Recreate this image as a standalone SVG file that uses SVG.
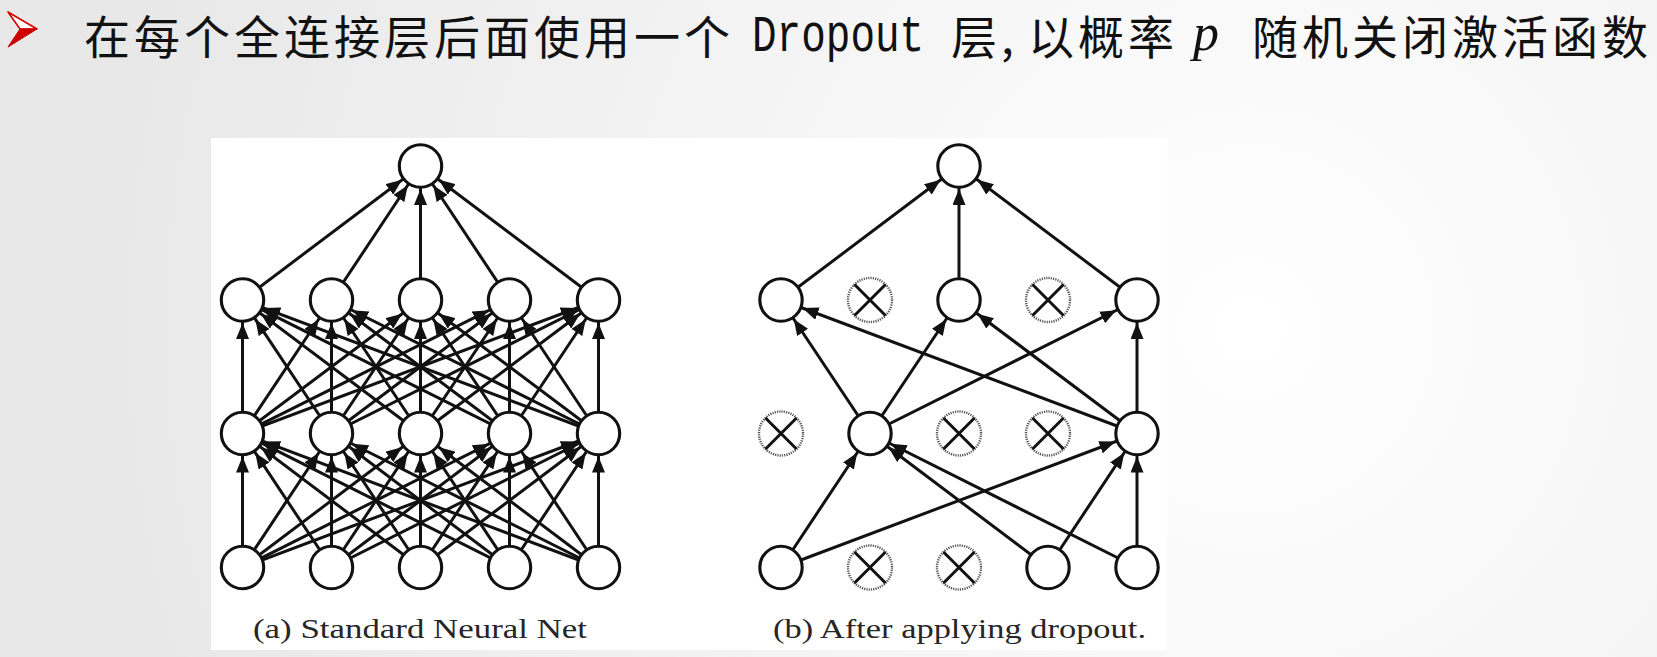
<svg xmlns="http://www.w3.org/2000/svg" width="1657" height="657" viewBox="0 0 1657 657">
<defs>
<radialGradient id="bg" cx="1250" cy="330" r="1150" gradientUnits="userSpaceOnUse">
<stop offset="0" stop-color="#ffffff"/>
<stop offset="1" stop-color="#e8e8e8"/>
</radialGradient>
<marker id="ah" markerUnits="userSpaceOnUse" markerWidth="40" markerHeight="13" refX="39" refY="6.5" orient="auto">
<path d="M0,0 L16,6.5 L0,13 z" fill="#111"/>
</marker>
</defs>
<style>
.e{stroke:#111;stroke-width:3;fill:none;marker-end:url(#ah)}
.n{fill:#fff;stroke:#111;stroke-width:3.1}
.d{fill:#fff;stroke:#555;stroke-width:2.4;stroke-dasharray:1.2 1.1}
.x{stroke:#111;stroke-width:3}
.cj{font-family:"Noto Sans CJK SC","Noto Sans",sans-serif;font-size:46px;letter-spacing:4px;fill:#111}
.cap{font-family:"Liberation Serif",serif;font-size:28px;fill:#262626}
</style>
<rect width="1657" height="657" fill="url(#bg)"/>
<g id="header">
<polygon points="8,12 37,29 20,29" fill="#fff" stroke="#d40000" stroke-width="1.6" stroke-linejoin="round"/>
<polygon points="20,29 37,29 8,47" fill="#cc0000" stroke="#cc0000" stroke-width="1" stroke-linejoin="round"/>
<text class="cj" x="84" y="53.5">在每个全连接层后面使用一个</text>
<text transform="translate(752,51) scale(1,1.25)" font-family="Liberation Mono, monospace" font-size="41" fill="#111">Dropout</text>
<text class="cj" x="951" y="53.5">层,</text>
<text class="cj" x="1028" y="53.5">以概率</text>
<text x="1193" y="50" font-family="Liberation Serif, serif" font-style="italic" font-size="52" fill="#111">p</text>
<text class="cj" x="1252" y="53.5">随机关闭激活函数</text>
</g>
<rect id="panel" x="211" y="138" width="956" height="512" fill="#fff"/>
<g id="connectors">
<g id="conn-a">
<line class="e" x1="242.5" y1="567.5" x2="242.5" y2="433.5"/>
<line class="e" x1="242.5" y1="567.5" x2="331.5" y2="433.5"/>
<line class="e" x1="242.5" y1="567.5" x2="420.5" y2="433.5"/>
<line class="e" x1="242.5" y1="567.5" x2="509.5" y2="433.5"/>
<line class="e" x1="242.5" y1="567.5" x2="598.5" y2="433.5"/>
<line class="e" x1="331.5" y1="567.5" x2="242.5" y2="433.5"/>
<line class="e" x1="331.5" y1="567.5" x2="331.5" y2="433.5"/>
<line class="e" x1="331.5" y1="567.5" x2="420.5" y2="433.5"/>
<line class="e" x1="331.5" y1="567.5" x2="509.5" y2="433.5"/>
<line class="e" x1="331.5" y1="567.5" x2="598.5" y2="433.5"/>
<line class="e" x1="420.5" y1="567.5" x2="242.5" y2="433.5"/>
<line class="e" x1="420.5" y1="567.5" x2="331.5" y2="433.5"/>
<line class="e" x1="420.5" y1="567.5" x2="420.5" y2="433.5"/>
<line class="e" x1="420.5" y1="567.5" x2="509.5" y2="433.5"/>
<line class="e" x1="420.5" y1="567.5" x2="598.5" y2="433.5"/>
<line class="e" x1="509.5" y1="567.5" x2="242.5" y2="433.5"/>
<line class="e" x1="509.5" y1="567.5" x2="331.5" y2="433.5"/>
<line class="e" x1="509.5" y1="567.5" x2="420.5" y2="433.5"/>
<line class="e" x1="509.5" y1="567.5" x2="509.5" y2="433.5"/>
<line class="e" x1="509.5" y1="567.5" x2="598.5" y2="433.5"/>
<line class="e" x1="598.5" y1="567.5" x2="242.5" y2="433.5"/>
<line class="e" x1="598.5" y1="567.5" x2="331.5" y2="433.5"/>
<line class="e" x1="598.5" y1="567.5" x2="420.5" y2="433.5"/>
<line class="e" x1="598.5" y1="567.5" x2="509.5" y2="433.5"/>
<line class="e" x1="598.5" y1="567.5" x2="598.5" y2="433.5"/>
<line class="e" x1="242.5" y1="433.5" x2="242.5" y2="300"/>
<line class="e" x1="242.5" y1="433.5" x2="331.5" y2="300"/>
<line class="e" x1="242.5" y1="433.5" x2="420.5" y2="300"/>
<line class="e" x1="242.5" y1="433.5" x2="509.5" y2="300"/>
<line class="e" x1="242.5" y1="433.5" x2="598.5" y2="300"/>
<line class="e" x1="331.5" y1="433.5" x2="242.5" y2="300"/>
<line class="e" x1="331.5" y1="433.5" x2="331.5" y2="300"/>
<line class="e" x1="331.5" y1="433.5" x2="420.5" y2="300"/>
<line class="e" x1="331.5" y1="433.5" x2="509.5" y2="300"/>
<line class="e" x1="331.5" y1="433.5" x2="598.5" y2="300"/>
<line class="e" x1="420.5" y1="433.5" x2="242.5" y2="300"/>
<line class="e" x1="420.5" y1="433.5" x2="331.5" y2="300"/>
<line class="e" x1="420.5" y1="433.5" x2="420.5" y2="300"/>
<line class="e" x1="420.5" y1="433.5" x2="509.5" y2="300"/>
<line class="e" x1="420.5" y1="433.5" x2="598.5" y2="300"/>
<line class="e" x1="509.5" y1="433.5" x2="242.5" y2="300"/>
<line class="e" x1="509.5" y1="433.5" x2="331.5" y2="300"/>
<line class="e" x1="509.5" y1="433.5" x2="420.5" y2="300"/>
<line class="e" x1="509.5" y1="433.5" x2="509.5" y2="300"/>
<line class="e" x1="509.5" y1="433.5" x2="598.5" y2="300"/>
<line class="e" x1="598.5" y1="433.5" x2="242.5" y2="300"/>
<line class="e" x1="598.5" y1="433.5" x2="331.5" y2="300"/>
<line class="e" x1="598.5" y1="433.5" x2="420.5" y2="300"/>
<line class="e" x1="598.5" y1="433.5" x2="509.5" y2="300"/>
<line class="e" x1="598.5" y1="433.5" x2="598.5" y2="300"/>
<line class="e" x1="242.5" y1="300" x2="420.5" y2="166"/>
<line class="e" x1="331.5" y1="300" x2="420.5" y2="166"/>
<line class="e" x1="420.5" y1="300" x2="420.5" y2="166"/>
<line class="e" x1="509.5" y1="300" x2="420.5" y2="166"/>
<line class="e" x1="598.5" y1="300" x2="420.5" y2="166"/>
</g>
<g id="conn-b">
<line class="e" x1="781" y1="567.5" x2="870" y2="433.5"/>
<line class="e" x1="781" y1="567.5" x2="1137" y2="433.5"/>
<line class="e" x1="1048" y1="567.5" x2="870" y2="433.5"/>
<line class="e" x1="1048" y1="567.5" x2="1137" y2="433.5"/>
<line class="e" x1="1137" y1="567.5" x2="870" y2="433.5"/>
<line class="e" x1="1137" y1="567.5" x2="1137" y2="433.5"/>
<line class="e" x1="870" y1="433.5" x2="781" y2="300"/>
<line class="e" x1="870" y1="433.5" x2="959" y2="300"/>
<line class="e" x1="870" y1="433.5" x2="1137" y2="300"/>
<line class="e" x1="1137" y1="433.5" x2="781" y2="300"/>
<line class="e" x1="1137" y1="433.5" x2="959" y2="300"/>
<line class="e" x1="1137" y1="433.5" x2="1137" y2="300"/>
<line class="e" x1="781" y1="300" x2="959" y2="166"/>
<line class="e" x1="959" y1="300" x2="959" y2="166"/>
<line class="e" x1="1137" y1="300" x2="959" y2="166"/>
</g>
</g>
<g id="net-a">
<g id="a-out"><circle class="n" cx="420.5" cy="166" r="21.2"/></g>
<g id="a-h2-1"><circle class="n" cx="242.5" cy="300" r="21.2"/></g>
<g id="a-h2-2"><circle class="n" cx="331.5" cy="300" r="21.2"/></g>
<g id="a-h2-3"><circle class="n" cx="420.5" cy="300" r="21.2"/></g>
<g id="a-h2-4"><circle class="n" cx="509.5" cy="300" r="21.2"/></g>
<g id="a-h2-5"><circle class="n" cx="598.5" cy="300" r="21.2"/></g>
<g id="a-h1-1"><circle class="n" cx="242.5" cy="433.5" r="21.2"/></g>
<g id="a-h1-2"><circle class="n" cx="331.5" cy="433.5" r="21.2"/></g>
<g id="a-h1-3"><circle class="n" cx="420.5" cy="433.5" r="21.2"/></g>
<g id="a-h1-4"><circle class="n" cx="509.5" cy="433.5" r="21.2"/></g>
<g id="a-h1-5"><circle class="n" cx="598.5" cy="433.5" r="21.2"/></g>
<g id="a-in-1"><circle class="n" cx="242.5" cy="567.5" r="21.2"/></g>
<g id="a-in-2"><circle class="n" cx="331.5" cy="567.5" r="21.2"/></g>
<g id="a-in-3"><circle class="n" cx="420.5" cy="567.5" r="21.2"/></g>
<g id="a-in-4"><circle class="n" cx="509.5" cy="567.5" r="21.2"/></g>
<g id="a-in-5"><circle class="n" cx="598.5" cy="567.5" r="21.2"/></g>
</g>
<g id="net-b">
<g id="b-out"><circle class="n" cx="959" cy="166" r="21.2"/></g>
<g id="b-h2-1"><circle class="n" cx="781" cy="300" r="21.2"/></g>
<g id="b-h2-2"><circle class="d" cx="870" cy="300" r="22"/><path class="x" d="M854.5,284.5 L885.5,315.5 M885.5,284.5 L854.5,315.5"/></g>
<g id="b-h2-3"><circle class="n" cx="959" cy="300" r="21.2"/></g>
<g id="b-h2-4"><circle class="d" cx="1048" cy="300" r="22"/><path class="x" d="M1032.5,284.5 L1063.5,315.5 M1063.5,284.5 L1032.5,315.5"/></g>
<g id="b-h2-5"><circle class="n" cx="1137" cy="300" r="21.2"/></g>
<g id="b-h1-1"><circle class="d" cx="781" cy="433.5" r="22"/><path class="x" d="M765.5,418 L796.5,449 M796.5,418 L765.5,449"/></g>
<g id="b-h1-2"><circle class="n" cx="870" cy="433.5" r="21.2"/></g>
<g id="b-h1-3"><circle class="d" cx="959" cy="433.5" r="22"/><path class="x" d="M943.5,418 L974.5,449 M974.5,418 L943.5,449"/></g>
<g id="b-h1-4"><circle class="d" cx="1048" cy="433.5" r="22"/><path class="x" d="M1032.5,418 L1063.5,449 M1063.5,418 L1032.5,449"/></g>
<g id="b-h1-5"><circle class="n" cx="1137" cy="433.5" r="21.2"/></g>
<g id="b-in-1"><circle class="n" cx="781" cy="567.5" r="21.2"/></g>
<g id="b-in-2"><circle class="d" cx="870" cy="567.5" r="22"/><path class="x" d="M854.5,552 L885.5,583 M885.5,552 L854.5,583"/></g>
<g id="b-in-3"><circle class="d" cx="959" cy="567.5" r="22"/><path class="x" d="M943.5,552 L974.5,583 M974.5,552 L943.5,583"/></g>
<g id="b-in-4"><circle class="n" cx="1048" cy="567.5" r="21.2"/></g>
<g id="b-in-5"><circle class="n" cx="1137" cy="567.5" r="21.2"/></g>
</g>
<g id="captions">
<text class="cap" x="253" y="638" textLength="334" lengthAdjust="spacingAndGlyphs">(a) Standard Neural Net</text>
<text class="cap" x="773" y="638" textLength="373" lengthAdjust="spacingAndGlyphs">(b) After applying dropout.</text>
</g>
</svg>
